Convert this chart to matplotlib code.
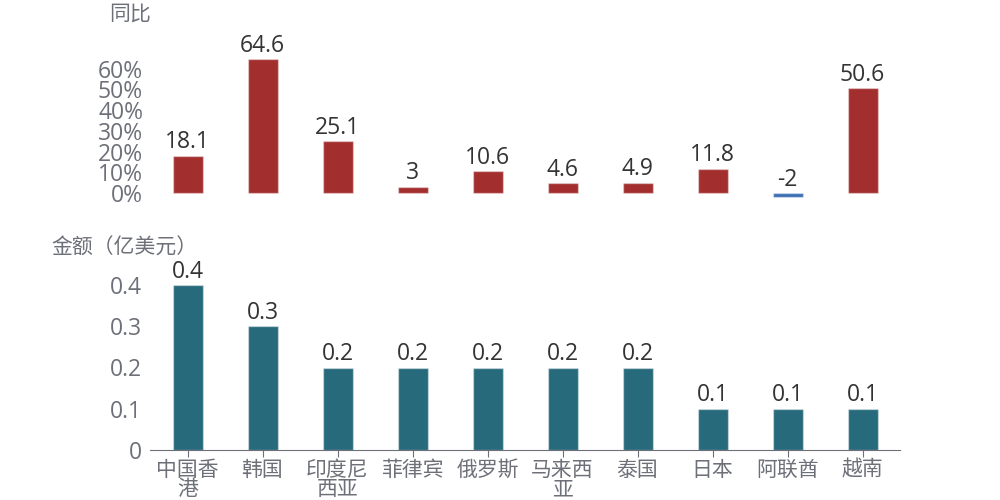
import matplotlib.pyplot as plt

plt.rcParams['font.family'] = ['Open Sans', 'Noto Sans CJK SC', 'DejaVu Sans']

# dados
regioes = ['中国香\n港', '韩国', '印度尼\n西亚', '菲律宾', '俄罗斯',
           '马来西\n亚', '泰国', '日本', '阿联酋', '越南']
tongbi = [18.1, 64.6, 25.1, 3, 10.6, 4.6, 4.9, 11.8, -2, 50.6]
jine = [0.4, 0.3, 0.2, 0.2, 0.2, 0.2, 0.2, 0.1, 0.1, 0.1]
tongbi_ticks = [0, 10, 20, 30, 40, 50, 60]
jine_ticks = [0, 0.1, 0.2, 0.3, 0.4]

RED = '#A32E2E'
BLUE = '#3C6EB4'
TEAL = '#276A7B'
GRAY = '#6E7079'
DARK = '#333333'
FS = 15      # texto chines
FN = 16.5    # numeros

fig = plt.figure(figsize=(10, 5), dpi=100)
ax1 = fig.add_axes([0.15, 0.6016, 0.75, 0.2816])
ax2 = fig.add_axes([0.15, 0.10, 0.75, 0.33])
x = list(range(len(regioes)))

# grafico de cima: yoy
cores = [RED if v >= 0 else BLUE for v in tongbi]
ax1.bar(x, tongbi, width=0.4, color=cores, edgecolor=(1, 1, 1, 0.4), linewidth=1)
for xi, v in zip(x, tongbi):
    ax1.annotate(f'{v:g}', (xi, max(v, 0)), xytext=(0, 1), textcoords='offset points',
                 ha='center', va='bottom', fontsize=FN, color=DARK)
ax1.set_xlim(-0.5, len(regioes) - 0.5)
ax1.set_ylim(-3, 65)
ax1.set_yticks(tongbi_ticks)
ax1.set_yticklabels([f'{t}%' for t in tongbi_ticks])
ax1.set_xticks([])
ax1.tick_params(axis='y', length=0, labelsize=FN, labelcolor=GRAY, pad=5)
for s in ax1.spines.values():
    s.set_visible(False)
ax1.patch.set_alpha(0)

# grafico de baixo: valor
ax2.bar(x, jine, width=0.4, color=TEAL, edgecolor=(1, 1, 1, 0.4), linewidth=1)
for xi, v in zip(x, jine):
    ax2.annotate(f'{v:g}', (xi, v), xytext=(0, 1), textcoords='offset points',
                 ha='center', va='bottom', fontsize=FN, color=DARK)
ax2.set_xlim(-0.5, len(regioes) - 0.5)
ax2.set_ylim(0, 0.4)
ax2.set_yticks(jine_ticks)
ax2.set_yticklabels([f'{t:g}' for t in jine_ticks])
ax2.set_xticks(x)
ax2.set_xticklabels(regioes, linespacing=0.9)
ax2.tick_params(axis='y', length=0, labelsize=FN, labelcolor=GRAY, pad=6)
ax2.tick_params(axis='x', length=5, color=GRAY, labelsize=FS, labelcolor=GRAY, pad=2)
for nome in ['top', 'right', 'left']:
    ax2.spines[nome].set_visible(False)
ax2.spines['bottom'].set_color(GRAY)
ax2.patch.set_alpha(0)

fig.text(0.13, 0.972, '同比', ha='center', va='center', fontsize=FS, color=GRAY)
fig.text(0.124, 0.503, '金额（亿美元）', ha='center', va='center', fontsize=FS, color=GRAY)

fig.savefig('out.png', dpi=100)
